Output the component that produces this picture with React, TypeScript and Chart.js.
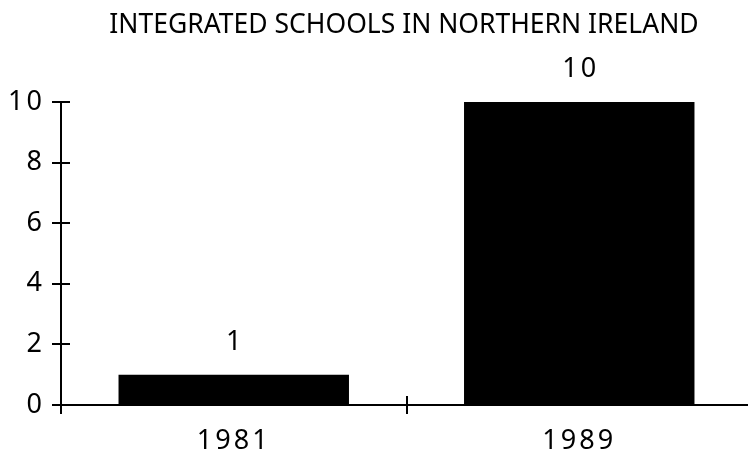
import React, { useEffect, useRef } from "react";
import { Chart, registerables } from "chart.js";

Chart.register(...registerables);

const TITLE = "INTEGRATED SCHOOLS IN NORTHERN IRELAND";
const categories = ["1981", "1989"];
const schools = [1, 10];
const yTicks = [0, 2, 4, 6, 8, 10];

const FONT = "'Noto Sans', sans-serif";

const crossTicks = {
  id: "crossTicks",
  beforeDraw(chart: any) {
    (chart.ctx as any).letterSpacing = "3px";
  },
  afterDraw(chart: any) {
    const ctx = chart.ctx;
    const area = chart.chartArea;
    const x = chart.scales.x;
    const y = chart.scales.y;
    ctx.save();
    ctx.strokeStyle = "#000";
    ctx.lineWidth = 2;
    ctx.beginPath();
    yTicks.forEach((v) => {
      const py = Math.round(y.getPixelForValue(v));
      ctx.moveTo(area.left - 9, py);
      ctx.lineTo(area.left + 9, py);
    });
    const n = categories.length;
    for (let i = 0; i <= n; i++) {
      const px = Math.round(x.getPixelForValue(i - 0.5));
      ctx.moveTo(px, area.bottom - 9);
      ctx.lineTo(px, area.bottom + 9);
    }
    ctx.stroke();

    // value labels
    ctx.fillStyle = "#000";
    ctx.font = `27px ${FONT}`;
    (ctx as any).letterSpacing = "3px";
    ctx.textAlign = "center";
    ctx.textBaseline = "alphabetic";
    const meta = chart.getDatasetMeta(0);
    meta.data.forEach((bar: any, i: number) => {
      ctx.fillText(String(schools[i]), bar.x + 1.5, bar.y - 25);
    });

    // title
    (ctx as any).letterSpacing = "0px";
    ctx.font = `26.5px ${FONT}`;
    ctx.textBaseline = "alphabetic";
    ctx.fillText(TITLE, 404, 33);
    ctx.restore();
  },
};

export default function App() {
  const ref = useRef<HTMLCanvasElement>(null);
  useEffect(() => {
    if (!ref.current) return;
    const chart = new Chart(ref.current, {
      type: "bar",
      data: {
        labels: categories,
        datasets: [
          {
            data: schools,
            backgroundColor: "#000",
            borderWidth: 0,
            categoryPercentage: 1,
            barPercentage: 0.667,
          },
        ],
      },
      options: {
        responsive: false,
        animation: false,
        devicePixelRatio: 1,
        layout: { padding: { top: 102, left: 0, right: 0, bottom: 0 } },
        plugins: { legend: { display: false }, tooltip: { enabled: false }, title: { display: false } },
        scales: {
          x: {
            grid: { display: false, drawTicks: false },
            border: { display: true, color: "#000", width: 2 },
            ticks: { color: "#000", font: { family: FONT, size: 27 }, padding: 20 },
            afterFit: (s: any) => {
              s.height = 49;
            },
          },
          y: {
            min: 0,
            max: 10,
            grid: { display: false, drawTicks: false },
            border: { display: true, color: "#000", width: 2 },
            ticks: { color: "#000", font: { family: FONT, size: 27 }, stepSize: 2, padding: 16 },
            afterFit: (s: any) => {
              s.width = 61;
            },
          },
        },
      },
      plugins: [crossTicks],
    });
    return () => chart.destroy();
  }, []);
  return (
    <div style={{ position: "absolute", left: 0, top: 0, width: 748, height: 454, overflow: "hidden", background: "#fff" }}>
      <canvas ref={ref} width={752} height={454} style={{ display: "block", width: 752, height: 454 }} />
    </div>
  );
}
